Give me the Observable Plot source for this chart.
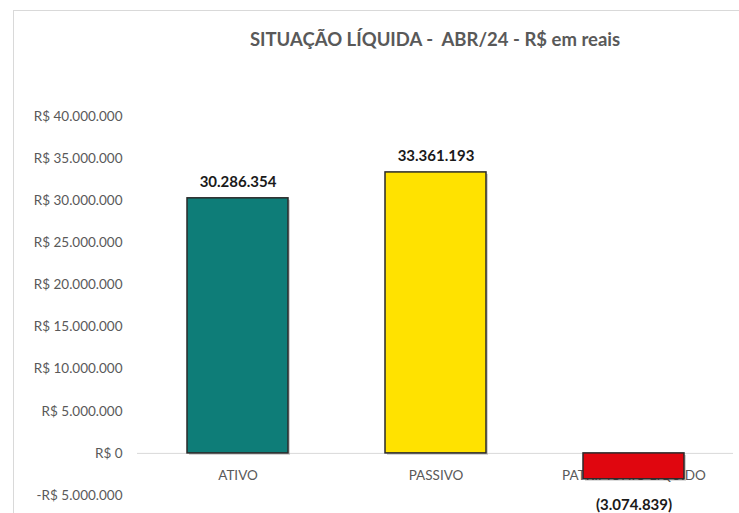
<!DOCTYPE html>
<html><head><meta charset="utf-8">
<script src="https://cdn.jsdelivr.net/npm/d3@7"></script>
<script src="https://cdn.jsdelivr.net/npm/@observablehq/plot@0.6"></script>
<style>
body{margin:0;background:#fff;font-family:Lato,"Open Sans",sans-serif;}
#wrap{position:relative;width:739px;height:513px;overflow:hidden;}
#frame{position:absolute;left:13px;top:10px;width:800px;height:600px;border-top:1px solid #d9d9d9;border-left:1px solid #d9d9d9;}
#title{position:absolute;left:0;top:0;width:739px;height:70px;}
#title div{position:absolute;left:435px;top:28px;transform:translateX(-50%);white-space:nowrap;font-size:18.5px;font-weight:bold;color:#595959;}
#chart{position:absolute;left:0;top:70px;}
</style></head>
<body>
<div id="wrap">
<div id="frame"></div>
<div id="title"><div>SITUAÇÃO LÍQUIDA -&nbsp; ABR/24 - R$ em reais</div></div>
<div id="chart"></div>
</div>
<script>
const categories = ["ATIVO", "PASSIVO", "PATRIMÔNIO LÍQUIDO"];
const values = [30286354, 33361193, -3074839];
const colors = ["#0e7d78", "#ffe200", "#e0060f"];
const yTicks = [-5000000, 0, 5000000, 10000000, 15000000, 20000000, 25000000, 30000000, 35000000, 40000000];

const loc = d3.formatLocale({decimal: ",", thousands: ".", grouping: [3], currency: ["R$ ", ""], minus: "-"});
const fmtCur = loc.format("$,.0f");
const fmtNum = loc.format(",.0f");
const label = v => v < 0 ? "(" + fmtNum(-v) + ")" : fmtNum(v);

const data = categories.map((c, i) => ({cat: c, value: values[i], color: colors[i]}));

const plot = Plot.plot({
  width: 739,
  height: 443,
  marginLeft: 137,
  marginRight: 6,
  marginTop: 46,
  marginBottom: 18,
  style: {fontFamily: "Lato, 'Open Sans', sans-serif", background: "transparent"},
  x: {domain: categories, paddingInner: 0.49, paddingOuter: 0.245, axis: null},
  y: {domain: [-5000000, 40000000], axis: null},
  marks: [
    Plot.axisY({ticks: yTicks, tickFormat: fmtCur, tickSize: 0, tickPadding: 15, fontSize: 13.5, color: "#595959", label: null}),
    Plot.ruleY([0], {stroke: "#d9d9d9", strokeWidth: 1}),
    Plot.text(data, {x: "cat", y: 0, text: "cat", dy: 22, fontSize: 13.5, fill: "#595959"}),
    Plot.barY(data, {x: "cat", y: "value", fill: "#000", dx: 2, dy: 2, fillOpacity: 0.18}),
    Plot.barY(data, {x: "cat", y: "value", fill: "color", stroke: "#2a2a2a", strokeWidth: 1.5}),
    Plot.text(data.filter(d => d.value >= 0), {x: "cat", y: "value", text: d => label(d.value), dy: -16, fontSize: 15, fontWeight: "bold", fill: "#1a1a1a"}),
    Plot.text(data.filter(d => d.value < 0), {x: "cat", y: "value", text: d => label(d.value), dy: 26, fontSize: 15, fontWeight: "bold", fill: "#1a1a1a"})
  ]
});
document.getElementById("chart").appendChild(plot);
</script>
</body></html>
